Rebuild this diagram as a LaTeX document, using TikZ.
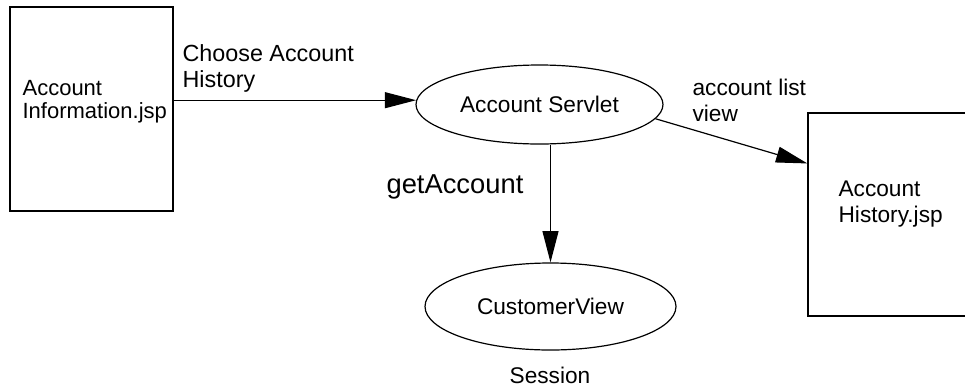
\documentclass[tikz,border=0pt]{standalone}
\usepackage{fontspec}
\setmainfont{Liberation Sans}
\usetikzlibrary{arrows.meta,calc,shapes.geometric}

\begin{document}
\begin{tikzpicture}[x=0.75pt,y=-0.75pt,line width=0.9pt,
  font=\fontsize{17}{19.5}\selectfont,
  page/.style={draw,rectangle,inner sep=0pt},
  proc/.style={draw,ellipse,inner sep=0pt},
  lbl/.style={inner sep=0pt,align=left},
  flow/.style={-{Triangle[length=23.5pt,width=12pt]}}]
  \useasboundingbox (0,0) rectangle (965,387);
  \clip (0,0) rectangle (965,387);
  % pages
  \node[page,minimum width=122.25pt,minimum height=153pt] (info) at (91.5,109) {};
  \node[lbl,anchor=north west,font=\fontsize{16.5}{17.25}\selectfont] (infotxt) at (22,80) {Account\\Information.jsp};
  \node[page,minimum width=125.25pt,minimum height=152.25pt] (hist) at (891.5,214.5) {};
  \node[lbl,anchor=north west] (histtxt) at (838,180.5) {Account\\History.jsp};
  % servlet and session bean
  \node[proc,minimum width=185.25pt,minimum height=59.25pt] (servlet) at (539.5,104.5) {Account Servlet};
  \node[proc,minimum width=188.25pt,minimum height=65.25pt] (cust) at (550.5,306.5) {CustomerView};
  \node[anchor=base,inner sep=0pt] (sess) at (550,383) {Session};
  % labels
  \node[lbl,anchor=north west,font=\fontsize{17.5}{19.5}\selectfont] (choose) at (182,44) {Choose Account\\History};
  \node[lbl,anchor=north west] (listview) at (692,78.5) {account list\\view};
  \node[anchor=base west,inner sep=0pt,font=\fontsize{20.5}{24}\selectfont] (getacc) at (386,193) {getAccount};
  % flows
  \draw[flow] (info.east |- servlet.178) -- (servlet.178);
  \draw[flow] (cust.north |- servlet.south) -- (cust.north);
  \draw[flow] (servlet.-7) -- ($(hist.north west)!.25!(hist.south west)$);
\end{tikzpicture}
\end{document}
